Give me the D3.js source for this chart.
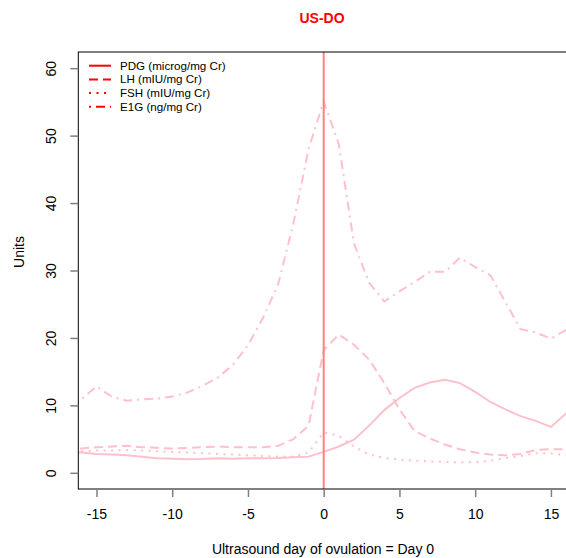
<!DOCTYPE html>
<html>
<head>
<meta charset="utf-8">
<script src="https://cdn.jsdelivr.net/npm/d3@7"></script>
<style>
  html, body { margin: 0; padding: 0; background: #fff; }
  svg { display: block; }
  text { font-family: "Liberation Sans", Arial, sans-serif; }
</style>
</head>
<body>
<script>
// ---- data ----
const days = [-17,-16,-15,-14,-13,-12,-11,-10,-9,-8,-7,-6,-5,-4,-3,-2,-1,0,1,2,3,4,5,6,7,8,9,10,11,12,13,14,15,16,17];
const pdg  = [3.1,3.0,2.8,2.7,2.6,2.4,2.15,2.1,2.0,2.05,2.15,2.1,2.15,2.15,2.2,2.3,2.4,3.1,3.9,4.9,7.0,9.3,11.1,12.6,13.4,13.8,13.3,12.0,10.5,9.4,8.4,7.7,6.8,8.8,10.8];
const lh   = [3.3,3.6,3.8,3.9,4.0,3.8,3.7,3.6,3.7,3.8,3.9,3.8,3.8,3.8,4.0,5.0,7.0,18.2,20.5,19.0,16.8,13.3,9.4,6.2,5.1,4.2,3.5,3.0,2.7,2.6,2.8,3.4,3.5,3.5,3.5];
const fsh  = [3.0,3.2,3.3,3.3,3.4,3.3,3.2,3.1,3.0,2.9,2.8,2.7,2.6,2.5,2.4,2.4,3.0,6.0,5.5,3.9,2.7,2.2,1.95,1.8,1.7,1.6,1.55,1.55,1.8,2.2,2.5,2.9,2.9,2.6,2.5];
const e1g  = [9.0,10.9,12.8,11.3,10.7,10.9,11.0,11.3,11.9,12.9,14.1,16.0,18.9,23.0,28.0,37.0,48.0,55.1,48.7,34.0,28.2,25.4,26.9,28.3,29.8,29.8,31.9,30.5,29.3,25.3,21.3,20.8,19.9,21.2,22.5];
const seriesNames = ["PDG (microg/mg Cr)", "LH (mIU/mg Cr)", "FSH (mIU/mg Cr)", "E1G (ng/mg Cr)"];
const xTicks = [-15,-10,-5,0,5,10,15];
const yTicks = [0,10,20,30,40,50,60];
const title = "US-DO";
const xLabel = "Ultrasound day of ovulation = Day 0";
const yLabel = "Units";

// ---- layout ----
const W = 566, H = 558;
const L = 78.3, R = 569.1, T = 52, B = 489;
const dashes = ["none", "9,5", "2,5.5", "2,5,9,5"];

const svg = d3.select("body").append("svg").attr("width", W).attr("height", H);

const x = d3.scaleLinear().domain([-16.2, 16.2]).range([L, R]);
const y = d3.scaleLinear().domain([-2.4, 62.4]).range([B, T]);

svg.append("defs").append("clipPath").attr("id", "clip")
  .append("rect").attr("x", L).attr("y", T).attr("width", R - L).attr("height", B - T);

const plot = svg.append("g").attr("clip-path", "url(#clip)");

const all = [pdg, lh, fsh, e1g];
const line = d3.line().x((d, i) => x(days[i])).y(d => y(d));
all.forEach((s, k) => {
  plot.append("path").datum(s)
    .attr("d", line)
    .attr("fill", "none")
    .attr("stroke", "#FFC0CB")
    .attr("stroke-width", 2)
    .attr("stroke-dasharray", dashes[k]);
});

// vertical line at day 0
plot.append("line")
  .attr("x1", x(0)).attr("x2", x(0)).attr("y1", T).attr("y2", B)
  .attr("stroke", "#FF8080").attr("stroke-width", 2);

// box
svg.append("rect").attr("x", L).attr("y", T).attr("width", R - L).attr("height", B - T)
  .attr("fill", "none").attr("stroke", "#000").attr("stroke-width", 1);

// x axis
const xAxis = svg.append("g").attr("transform", `translate(0,${B})`)
  .call(d3.axisBottom(x).tickValues(xTicks).tickSize(8).tickPadding(12).tickFormat(d3.format("d")));
xAxis.select(".domain").remove();
xAxis.selectAll(".tick line").attr("stroke", "#808080").attr("stroke-width", 1.5);
xAxis.selectAll(".tick text").attr("font-size", 14).attr("fill", "#000")
  .attr("font-family", "Liberation Sans, Arial, sans-serif").text(d => d < 0 ? "-" + Math.abs(d) : d);

// y axis
const yAxis = svg.append("g").attr("transform", `translate(${L},0)`)
  .call(d3.axisLeft(y).tickValues(yTicks).tickSize(8).tickFormat(d3.format("d")));
yAxis.select(".domain").remove();
yAxis.selectAll(".tick line").attr("stroke", "#808080").attr("stroke-width", 1.5);
yAxis.selectAll(".tick text").remove();
yAxis.selectAll(".tick").append("text")
  .attr("transform", "translate(-27,0) rotate(-90)")
  .attr("text-anchor", "middle").attr("dy", "0.35em")
  .attr("font-size", 14).attr("fill", "#000")
  .attr("font-family", "Liberation Sans, Arial, sans-serif")
  .text(d => d);

// labels
svg.append("text").attr("x", 323).attr("y", 554).attr("text-anchor", "middle")
  .attr("font-size", 14).text(xLabel);
svg.append("text").attr("transform", "translate(24,252) rotate(-90)").attr("text-anchor", "middle")
  .attr("font-size", 14).text(yLabel);
svg.append("text").attr("x", 322).attr("y", 23).attr("text-anchor", "middle")
  .attr("font-size", 14).attr("font-weight", "bold").attr("fill", "#FF0000").text(title);

// legend
const lg = svg.append("g");
seriesNames.forEach((name, k) => {
  const yy = 65.7 + k * 13.7;
  lg.append("line").attr("x1", 89).attr("x2", 111).attr("y1", yy).attr("y2", yy)
    .attr("stroke", "#FF0000").attr("stroke-width", 2).attr("stroke-dasharray", dashes[k]);
  lg.append("text").attr("x", 120).attr("y", yy).attr("dy", "0.35em")
    .attr("font-size", 11.6).attr("fill", "#000").text(name);
});
</script>
</body>
</html>
